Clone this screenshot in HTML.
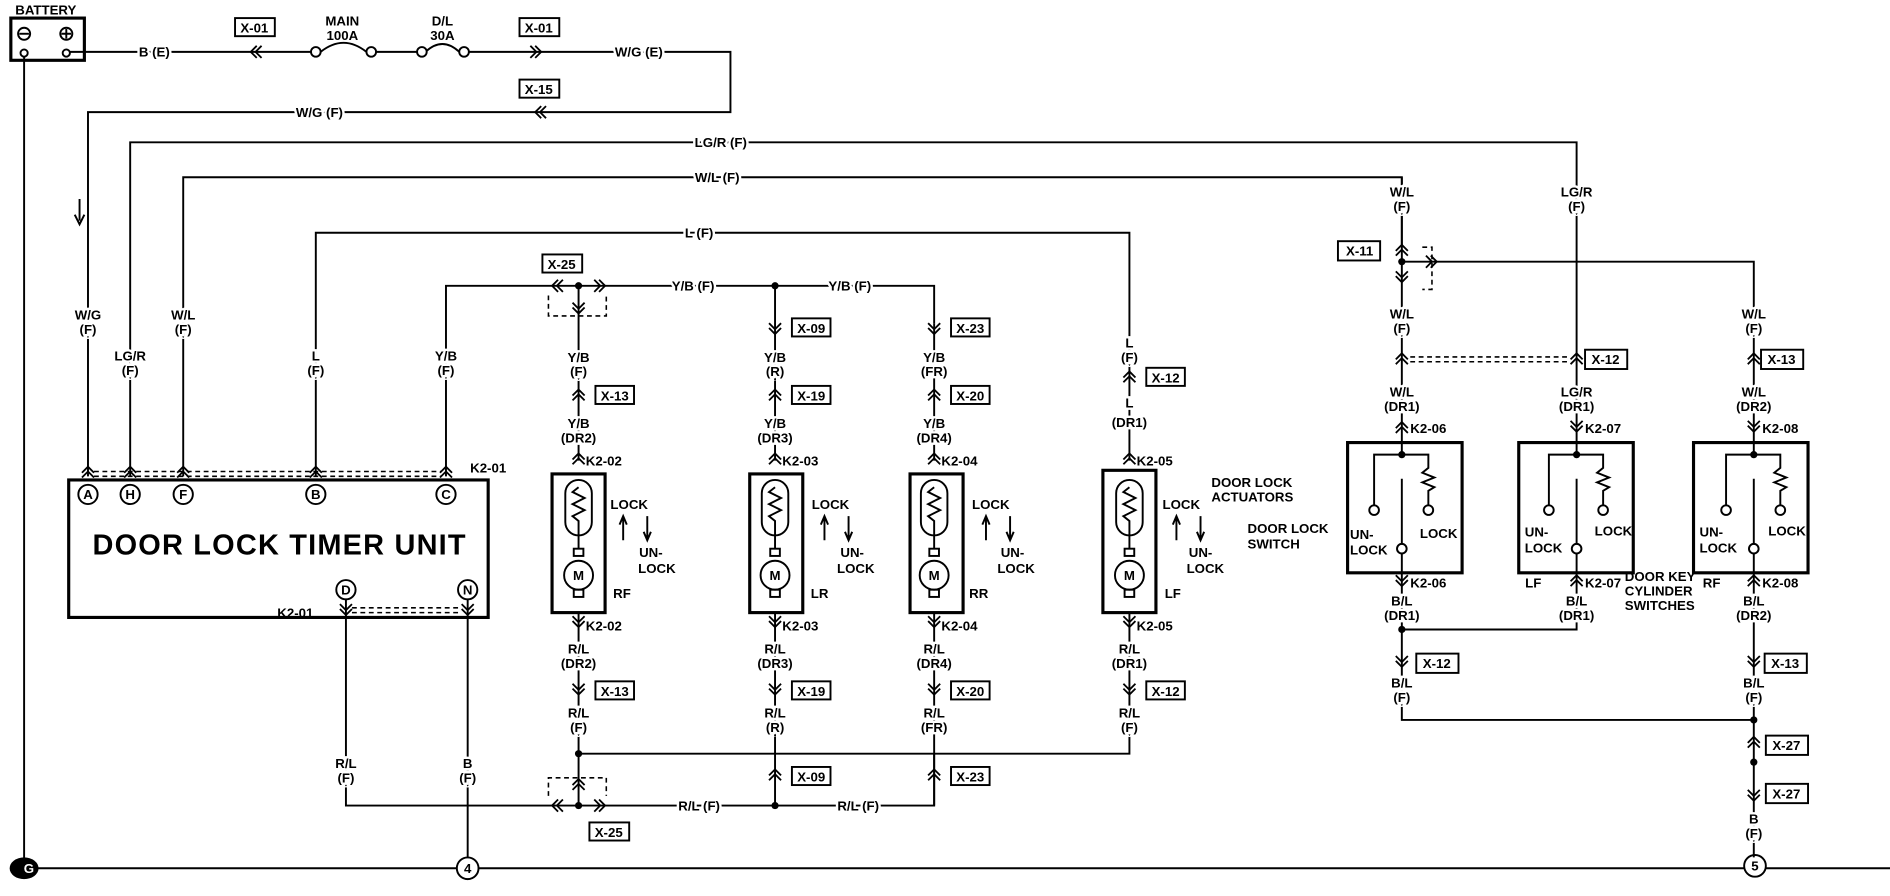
<!DOCTYPE html>
<html><head><meta charset="utf-8"><style>
html,body{margin:0;padding:0;background:#fff;}
svg{display:block}
text{font-family:"Liberation Sans Narrow","Liberation Sans",sans-serif;font-weight:bold;font-size:11px;text-anchor:middle;fill:#000;stroke:#fff;stroke-width:4px;paint-order:stroke;}
.n{stroke:none}
.l{text-anchor:start}
.w{fill:none;stroke:#000;stroke-width:1.6}
.b{fill:none;stroke:#000;stroke-width:2.6}
.d{fill:none;stroke:#000;stroke-width:1.3;stroke-dasharray:4 3}
.bx{fill:#fff;stroke:#000;stroke-width:1.6}
</style></head><body>
<svg width="1890" height="896" viewBox="0 0 1568 743" preserveAspectRatio="none">
<defs>
<path id="u" d="M-5,3 L0,-2 L5,3 M-5,7 L0,2 L5,7" fill="none" stroke="#000" stroke-width="1.5"/>
<path id="dn" d="M-5,-3 L0,2 L5,-3 M-5,-7 L0,-2 L5,-7" fill="none" stroke="#000" stroke-width="1.5"/>
<path id="lf" d="M3,-5 L-2,0 L3,5 M7,-5 L2,0 L7,5" fill="none" stroke="#000" stroke-width="1.5"/>
<path id="rt" d="M-3,-5 L2,0 L-3,5 M-7,-5 L-2,0 L-7,5" fill="none" stroke="#000" stroke-width="1.5"/>
</defs>

<!-- Battery -->
<text x="38" y="12" class="n">BATTERY</text>
<rect x="9" y="15" width="61" height="35" class="b"/>
<circle cx="20" cy="28" r="5" class="w"/><path d="M16,28h8" class="w"/>
<circle cx="55" cy="28" r="5" class="w"/><path d="M51,28h8M55,24v8" class="w"/>
<circle cx="20" cy="44" r="3" class="w"/><circle cx="55" cy="44" r="3" class="w"/>

<!-- ground & bottom bus -->
<path d="M20,47V718 M20,720H1568" class="w"/>
<path d="M8,720 a12,9 0 0 1 24,0 a12,9 0 0 1 -24,0z" fill="#000"/>
<text x="24" y="724" class="n" style="fill:#fff">G</text>
<circle cx="388" cy="720" r="9" class="bx"/><text x="388" y="724" class="n">4</text>
<circle cx="1456" cy="718" r="9" class="bx"/><text x="1456" y="722" class="n">5</text>

<!-- top power line -->
<path d="M58,43H258 M266,43 Q285,28 304,43 M312,43H347 M353,43 Q367,30 381,43 M389,43H606V93H73V395" class="w"/>
<circle cx="262" cy="43" r="4" class="bx"/><circle cx="308" cy="43" r="4" class="bx"/>
<circle cx="350" cy="43" r="4" class="bx"/><circle cx="385" cy="43" r="4" class="bx"/>
<text x="128" y="47">B (E)</text>
<rect x="195" y="15" width="33" height="15" class="bx"/><text x="211" y="27" class="n">X-01</text>
<use href="#lf" x="210" y="43"/>
<text x="284" y="21" class="n">MAIN</text><text x="284" y="33" class="n">100A</text>
<text x="367" y="21" class="n">D/L</text><text x="367" y="33" class="n">30A</text>
<rect x="431" y="15" width="33" height="15" class="bx"/><text x="447" y="27" class="n">X-01</text>
<use href="#rt" x="447" y="43"/>
<text x="530" y="47">W/G (E)</text>
<rect x="431" y="66" width="33" height="15" class="bx"/><text x="447" y="78" class="n">X-15</text>
<use href="#lf" x="446" y="93"/>
<text x="265" y="97">W/G (F)</text>
<path d="M66,165V183 M62,178L66,186L70,178" class="w"/>

<!-- long lines -->
<path d="M108,395V118H1308V355" class="w"/>
<path d="M152,395V147H1163V205" class="w"/>
<path d="M262,395V193H937V378" class="w"/>
<path d="M370,395V237H775V268" class="w"/>
<text x="598" y="122">LG/R (F)</text>
<text x="595" y="151">W/L (F)</text>
<text x="580" y="197">L (F)</text>
<text x="575" y="241">Y/B (F)</text>
<text x="705" y="241">Y/B (F)</text>

<text x="73" y="265">W/G</text><text x="73" y="277">(F)</text>
<text x="108" y="299">LG/R</text><text x="108" y="311">(F)</text>
<text x="152" y="265">W/L</text><text x="152" y="277">(F)</text>
<text x="262" y="299">L</text><text x="262" y="311">(F)</text>
<text x="370" y="299">Y/B</text><text x="370" y="311">(F)</text>

<!-- Timer unit -->
<use href="#u" x="73" y="389"/><use href="#u" x="108" y="389"/><use href="#u" x="152" y="389"/><use href="#u" x="262" y="389"/><use href="#u" x="370" y="389"/>
<path d="M78,391H366 M78,395H366" class="d"/>
<text x="405" y="392" class="n">K2-01</text>
<rect x="57" y="398" width="348" height="114" class="b"/>
<g class="w">
<circle cx="73" cy="410" r="8"/><circle cx="108" cy="410" r="8"/><circle cx="152" cy="410" r="8"/><circle cx="262" cy="410" r="8"/><circle cx="370" cy="410" r="8"/>
<circle cx="287" cy="489" r="8"/><circle cx="388" cy="489" r="8"/></g>
<g style="font-size:9px"><text x="73" y="414" class="n">A</text><text x="108" y="414" class="n">H</text><text x="152" y="414" class="n">F</text><text x="262" y="414" class="n">B</text><text x="370" y="414" class="n">C</text><text x="287" y="493" class="n">D</text><text x="388" y="493" class="n">N</text></g>
<text x="232" y="460" class="n" style="font-size:24px;letter-spacing:1px">DOOR LOCK TIMER UNIT</text>
<use href="#dn" x="287" y="508"/><use href="#dn" x="388" y="508"/>
<path d="M292,504H383 M292,508H383" class="d"/>
<text x="245" y="512" class="n">K2-01</text>
<path d="M287,497V668H480 M388,497V711" class="w"/>
<text x="287" y="637">R/L</text><text x="287" y="649">(F)</text>
<text x="388" y="637">B</text><text x="388" y="649">(F)</text>

<!-- actuators -->
<g id="act">
</g>
<path d="M480,237V382 M643,237V382 M775,268V382 M937,378V382" class="w"/>
<path d="M480,508V668 M643,508V668 M775,508V668 M937,508V625H480" class="w"/>
<circle cx="480" cy="237" r="3"/><circle cx="643" cy="237" r="3"/>
<circle cx="480" cy="625" r="3"/><circle cx="480" cy="668" r="3"/><circle cx="643" cy="668" r="3"/>
<path d="M480,668H775V625" class="w"/>

<!-- X-25 top -->
<rect x="450" y="211" width="33" height="15" class="bx"/><text x="466" y="223" class="n">X-25</text>
<use href="#lf" x="460" y="237"/><use href="#rt" x="500" y="237"/><use href="#dn" x="480" y="258"/>
<path d="M455,245V262H503V245" class="d"/>
<!-- X-25 bottom -->
<use href="#lf" x="460" y="668"/><use href="#rt" x="500" y="668"/><use href="#u" x="480" y="648"/>
<path d="M455,660V645H503V660" class="d"/>
<rect x="489" y="682" width="33" height="15" class="bx"/><text x="505" y="694" class="n">X-25</text>
<text x="580" y="672">R/L (F)</text><text x="712" y="672">R/L (F)</text>

<!-- column labels -->
<text x="480" y="300">Y/B</text><text x="480" y="312">(F)</text>
<use href="#u" x="480" y="325"/><rect x="494" y="320" width="32" height="15" class="bx"/><text x="510" y="332" class="n">X-13</text>
<text x="480" y="355">Y/B</text><text x="480" y="367">(DR2)</text>

<use href="#dn" x="643" y="275"/><rect x="657" y="264" width="32" height="15" class="bx"/><text x="673" y="276" class="n">X-09</text>
<text x="643" y="300">Y/B</text><text x="643" y="312">(R)</text>
<use href="#u" x="643" y="325"/><rect x="657" y="320" width="32" height="15" class="bx"/><text x="673" y="332" class="n">X-19</text>
<text x="643" y="355">Y/B</text><text x="643" y="367">(DR3)</text>

<use href="#dn" x="775" y="275"/><rect x="789" y="264" width="32" height="15" class="bx"/><text x="805" y="276" class="n">X-23</text>
<text x="775" y="300">Y/B</text><text x="775" y="312">(FR)</text>
<use href="#u" x="775" y="325"/><rect x="789" y="320" width="32" height="15" class="bx"/><text x="805" y="332" class="n">X-20</text>
<text x="775" y="355">Y/B</text><text x="775" y="367">(DR4)</text>

<text x="937" y="288">L</text><text x="937" y="300">(F)</text>
<use href="#u" x="937" y="310"/><rect x="951" y="305" width="32" height="15" class="bx"/><text x="967" y="317" class="n">X-12</text>
<text x="937" y="338">L</text><text x="937" y="354">(DR1)</text>

<!-- actuator boxes -->
<g class="w">
<use href="#u" x="480" y="378"/><use href="#u" x="643" y="378"/><use href="#u" x="775" y="378"/><use href="#u" x="937" y="378"/>
</g>
<text x="486" y="386" class="n l">K2-02</text><text x="649" y="386" class="n l">K2-03</text><text x="781" y="386" class="n l">K2-04</text><text x="943" y="386" class="n l">K2-05</text>

<g>
<rect x="458" y="393" width="44" height="115" class="b"/>
<rect x="622" y="393" width="44" height="115" class="b"/>
<rect x="755" y="393" width="44" height="115" class="b"/>
<rect x="915" y="390" width="44" height="118" class="b"/>
</g>
<g class="w">
<rect x="469" y="398" width="22" height="46" rx="11"/><path d="M480,404l-5,4l10,5l-10,5l10,5l-10,5l5,4V455"/><rect x="476" y="455" width="8" height="6"/><circle cx="480" cy="477" r="12"/><rect x="476" y="489" width="8" height="6"/>
<rect x="632" y="398" width="22" height="46" rx="11"/><path d="M643,404l-5,4l10,5l-10,5l10,5l-10,5l5,4V455"/><rect x="639" y="455" width="8" height="6"/><circle cx="643" cy="477" r="12"/><rect x="639" y="489" width="8" height="6"/>
<rect x="764" y="398" width="22" height="46" rx="11"/><path d="M775,404l-5,4l10,5l-10,5l10,5l-10,5l5,4V455"/><rect x="771" y="455" width="8" height="6"/><circle cx="775" cy="477" r="12"/><rect x="771" y="489" width="8" height="6"/>
<rect x="926" y="398" width="22" height="46" rx="11"/><path d="M937,404l-5,4l10,5l-10,5l10,5l-10,5l5,4V455"/><rect x="933" y="455" width="8" height="6"/><circle cx="937" cy="477" r="12"/><rect x="933" y="489" width="8" height="6"/>
</g>
<g style="font-size:10px" class="n">
<text x="480" y="481" class="n">M</text><text x="643" y="481" class="n">M</text><text x="775" y="481" class="n">M</text><text x="937" y="481" class="n">M</text>
</g>
<!-- LOCK labels -->
<g class="w">
<path d="M517,448V430M514,435L517,428L520,435 M537,428V446M534,441L537,448L540,441"/>
<path d="M684,448V430M681,435L684,428L687,435 M704,428V446M701,441L704,448L707,441"/>
<path d="M818,448V430M815,435L818,428L821,435 M838,428V446M835,441L838,448L841,441"/>
<path d="M976,448V430M973,435L976,428L979,435 M996,428V446M993,441L996,448L999,441"/>
</g>
<text x="522" y="422" class="n">LOCK</text><text x="540" y="462" class="n">UN-</text><text x="545" y="475" class="n">LOCK</text><text x="516" y="496" class="n">RF</text>
<text x="689" y="422" class="n">LOCK</text><text x="707" y="462" class="n">UN-</text><text x="710" y="475" class="n">LOCK</text><text x="680" y="496" class="n">LR</text>
<text x="822" y="422" class="n">LOCK</text><text x="840" y="462" class="n">UN-</text><text x="843" y="475" class="n">LOCK</text><text x="812" y="496" class="n">RR</text>
<text x="980" y="422" class="n">LOCK</text><text x="996" y="462" class="n">UN-</text><text x="1000" y="475" class="n">LOCK</text><text x="973" y="496" class="n">LF</text>
<text x="1005" y="404" class="n l">DOOR LOCK</text><text x="1005" y="416" class="n l">ACTUATORS</text>

<!-- below actuators -->
<use href="#dn" x="480" y="518"/><text x="486" y="523" class="n l">K2-02</text>
<use href="#dn" x="643" y="518"/><text x="649" y="523" class="n l">K2-03</text>
<use href="#dn" x="775" y="518"/><text x="781" y="523" class="n l">K2-04</text>
<use href="#dn" x="937" y="518"/><text x="943" y="523" class="n l">K2-05</text>
<text x="480" y="542">R/L</text><text x="480" y="554">(DR2)</text>
<text x="643" y="542">R/L</text><text x="643" y="554">(DR3)</text>
<text x="775" y="542">R/L</text><text x="775" y="554">(DR4)</text>
<text x="937" y="542">R/L</text><text x="937" y="554">(DR1)</text>
<use href="#dn" x="480" y="574"/><rect x="494" y="565" width="32" height="15" class="bx"/><text x="510" y="577" class="n">X-13</text>
<use href="#dn" x="643" y="574"/><rect x="657" y="565" width="32" height="15" class="bx"/><text x="673" y="577" class="n">X-19</text>
<use href="#dn" x="775" y="574"/><rect x="789" y="565" width="32" height="15" class="bx"/><text x="805" y="577" class="n">X-20</text>
<use href="#dn" x="937" y="574"/><rect x="951" y="565" width="32" height="15" class="bx"/><text x="967" y="577" class="n">X-12</text>
<text x="480" y="595">R/L</text><text x="480" y="607">(F)</text>
<text x="643" y="595">R/L</text><text x="643" y="607">(R)</text>
<text x="775" y="595">R/L</text><text x="775" y="607">(FR)</text>
<text x="937" y="595">R/L</text><text x="937" y="607">(F)</text>
<use href="#u" x="643" y="640"/><rect x="657" y="636" width="32" height="15" class="bx"/><text x="673" y="648" class="n">X-09</text>
<use href="#u" x="775" y="640"/><rect x="789" y="636" width="32" height="15" class="bx"/><text x="805" y="648" class="n">X-23</text>

<!-- right side -->
<path d="M1163,147V367 M1163,217H1455V367 M1308,355V367" class="w"/>
<circle cx="1163" cy="217" r="3"/>
<text x="1163" y="163">W/L</text><text x="1163" y="175">(F)</text>
<text x="1308" y="163">LG/R</text><text x="1308" y="175">(F)</text>
<use href="#u" x="1163" y="205"/><use href="#dn" x="1163" y="232"/><use href="#rt" x="1190" y="217"/>
<path d="M1180,205H1188V240H1180" class="d"/>
<rect x="1110" y="200" width="35" height="16" class="bx"/><text x="1128" y="212" class="n">X-11</text>
<text x="1163" y="264">W/L</text><text x="1163" y="276">(F)</text>
<text x="1455" y="264">W/L</text><text x="1455" y="276">(F)</text>
<use href="#u" x="1163" y="295"/><use href="#u" x="1308" y="295"/>
<path d="M1170,296H1300 M1170,300H1300" class="d"/>
<rect x="1315" y="290" width="35" height="16" class="bx"/><text x="1332" y="302" class="n">X-12</text>
<use href="#u" x="1455" y="295"/><rect x="1461" y="290" width="35" height="16" class="bx"/><text x="1478" y="302" class="n">X-13</text>
<text x="1163" y="329">W/L</text><text x="1163" y="341">(DR1)</text>
<text x="1308" y="329">LG/R</text><text x="1308" y="341">(DR1)</text>
<text x="1455" y="329">W/L</text><text x="1455" y="341">(DR2)</text>
<use href="#u" x="1163" y="352"/><text x="1170" y="359" class="n l">K2-06</text>
<use href="#dn" x="1308" y="356"/><text x="1315" y="359" class="n l">K2-07</text>
<use href="#dn" x="1455" y="356"/><text x="1462" y="359" class="n l">K2-08</text>

<!-- switches -->
<g class="w">
<rect x="1118" y="367" width="95" height="108" class="b"/>
<rect x="1260" y="367" width="95" height="108" class="b"/>
<rect x="1405" y="367" width="95" height="108" class="b"/>
<path d="M1163,367V377H1140V419 M1163,377H1185V388l-5,4l10,4l-10,4l10,4l-5,3V419 M1163,397V451 M1163,459V475"/>
<circle cx="1140" cy="423" r="4"/><circle cx="1185" cy="423" r="4"/><circle cx="1163" cy="455" r="4"/>
<path d="M1308,367V377H1285V419 M1308,377H1330V388l-5,4l10,4l-10,4l10,4l-5,3V419 M1308,397V451 M1308,459V475"/>
<circle cx="1285" cy="423" r="4"/><circle cx="1330" cy="423" r="4"/><circle cx="1308" cy="455" r="4"/>
<path d="M1455,367V377H1432V419 M1455,377H1477V388l-5,4l10,4l-10,4l10,4l-5,3V419 M1455,397V451 M1455,459V475"/>
<circle cx="1432" cy="423" r="4"/><circle cx="1477" cy="423" r="4"/><circle cx="1455" cy="455" r="4"/>
</g>
<circle cx="1163" cy="377" r="3"/><circle cx="1308" cy="377" r="3"/><circle cx="1455" cy="377" r="3"/>
<g class="n">
<text x="1120" y="447" class="n l">UN-</text><text x="1120" y="460" class="n l">LOCK</text><text x="1178" y="446" class="n l">LOCK</text>
<text x="1265" y="445" class="n l">UN-</text><text x="1265" y="458" class="n l">LOCK</text><text x="1323" y="444" class="n l">LOCK</text>
<text x="1410" y="445" class="n l">UN-</text><text x="1410" y="458" class="n l">LOCK</text><text x="1467" y="444" class="n l">LOCK</text>
</g>
<text x="1035" y="442" class="n l">DOOR LOCK</text><text x="1035" y="455" class="n l">SWITCH</text>

<path d="M1163,475V597H1455V711 M1163,522H1308V475 M1455,475V597" class="w"/>
<circle cx="1163" cy="522" r="3"/><circle cx="1455" cy="597" r="3"/><circle cx="1455" cy="632" r="3"/>
<use href="#dn" x="1163" y="484"/><text x="1170" y="487" class="n l">K2-06</text>
<use href="#u" x="1308" y="479"/><text x="1315" y="487" class="n l">K2-07</text>
<use href="#u" x="1455" y="479"/><text x="1462" y="487" class="n l">K2-08</text>
<text x="1272" y="487" class="n">LF</text><text x="1420" y="487" class="n">RF</text>
<text x="1163" y="502">B/L</text><text x="1163" y="514">(DR1)</text>
<text x="1308" y="502">B/L</text><text x="1308" y="514">(DR1)</text>
<text x="1455" y="502">B/L</text><text x="1455" y="514">(DR2)</text>
<text x="1348" y="482" class="n l">DOOR KEY</text><text x="1348" y="494" class="n l">CYLINDER</text><text x="1348" y="506" class="n l">SWITCHES</text>
<use href="#dn" x="1163" y="551"/><rect x="1175" y="542" width="35" height="16" class="bx"/><text x="1192" y="554" class="n">X-12</text>
<use href="#dn" x="1455" y="551"/><rect x="1464" y="542" width="35" height="16" class="bx"/><text x="1481" y="554" class="n">X-13</text>
<text x="1163" y="570">B/L</text><text x="1163" y="582">(F)</text>
<text x="1455" y="570">B/L</text><text x="1455" y="582">(F)</text>
<use href="#u" x="1455" y="613"/><rect x="1465" y="610" width="35" height="16" class="bx"/><text x="1482" y="622" class="n">X-27</text>
<use href="#dn" x="1455" y="662"/><rect x="1465" y="650" width="35" height="16" class="bx"/><text x="1482" y="662" class="n">X-27</text>
<text x="1455" y="683">B</text><text x="1455" y="695">(F)</text>
</svg>
</body></html>
